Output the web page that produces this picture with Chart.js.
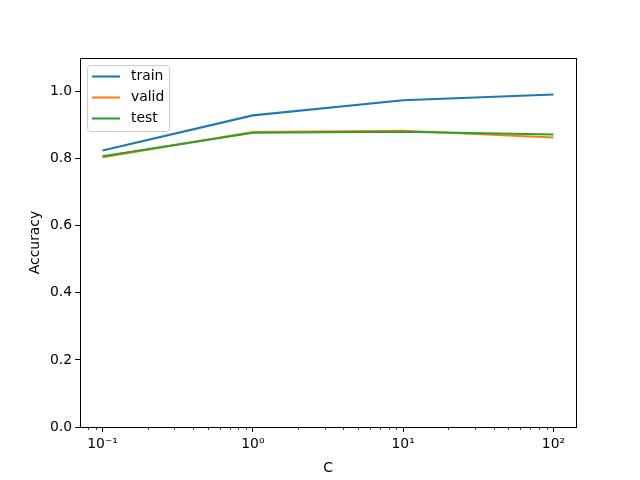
<!DOCTYPE html>
<html>
<head>
<meta charset="utf-8">
<script src="https://cdn.jsdelivr.net/npm/chart.js@4"></script>
<style>
  html, body { margin: 0; padding: 0; background: #fff; }
  #wrap { width: 640px; height: 480px; }
</style>
</head>
<body>
<div id="wrap"><canvas id="chart" width="640" height="480"></canvas></div>
<script>
// values
const cValues = [0.1, 1, 10, 100];
const trainAcc = [0.824, 0.929, 0.974, 0.991];
const validAcc = [0.804, 0.879, 0.883, 0.863];
const testAcc = [0.807, 0.877, 0.880, 0.872];
const xTicks = [0.1, 1, 10, 100];
const xTickLabels = ["10\u207B\u00B9", "10\u2070", "10\u00B9", "10\u00B2"];
const yTicks = [0, 0.2, 0.4, 0.6, 0.8, 1.0];

const FONT = "'DejaVu Sans', sans-serif";
const FS = 13.9;

function pts(ys) {
    return cValues.map((x, i) => ({ x: x, y: ys[i] }));
}

// box around the plot, minor log ticks, and the legend inside the axes
const mplLook = {
    id: 'mplLook',
    afterDraw(chart) {
        const ctx = chart.ctx;
        const a = chart.chartArea;
        const xs = chart.scales.x;
        ctx.save();
        ctx.strokeStyle = '#000';
        ctx.lineWidth = 1;
        ctx.strokeRect(Math.round(a.left) + 0.5, Math.round(a.top) + 0.5,
            Math.round(a.right - a.left), Math.round(a.bottom - a.top));

        // minor ticks
        ctx.lineWidth = 0.8;
        for (let d = -2; d <= 2; d++) {
            for (let k = 2; k <= 9; k++) {
                const v = k * Math.pow(10, d);
                if (v < xs.min || v > xs.max) continue;
                const px = Math.round(xs.getPixelForValue(v)) + 0.5;
                ctx.beginPath();
                ctx.moveTo(px, a.bottom);
                ctx.lineTo(px, a.bottom + 2.8);
                ctx.stroke();
            }
        }

        // legend
        const lx = a.left + 7, ly = a.top + 7, lw = 82, lh = 66;
        ctx.beginPath();
        ctx.roundRect(lx + 0.5, ly + 0.5, lw, lh, 3);
        ctx.fillStyle = 'rgba(255,255,255,0.8)';
        ctx.fill();
        ctx.strokeStyle = '#cccccc';
        ctx.lineWidth = 1;
        ctx.stroke();
        ctx.font = FS + 'px ' + FONT;
        ctx.textBaseline = 'middle';
        chart.data.datasets.forEach((ds, i) => {
            const yy = ly + 11.5 + i * 21;
            ctx.strokeStyle = ds.borderColor;
            ctx.lineWidth = 2.08;
            ctx.beginPath();
            ctx.moveTo(lx + 5, yy);
            ctx.lineTo(lx + 33, yy);
            ctx.stroke();
            ctx.fillStyle = '#000';
            ctx.fillText(ds.label, lx + 44, yy);
        });
        ctx.restore();
    }
};

new Chart(document.getElementById('chart'), {
    type: 'line',
    data: {
        datasets: [
            // later series painted on top, like matplotlib
            { label: 'train', data: pts(trainAcc), borderColor: '#1f77b4', order: 3 },
            { label: 'valid', data: pts(validAcc), borderColor: '#ff7f0e', order: 2 },
            { label: 'test', data: pts(testAcc), borderColor: '#2ca02c', order: 1 }
        ]
    },
    options: {
        responsive: false,
        animation: false,
        layout: { padding: { left: 0, right: 64, top: 58, bottom: 0 } },
        elements: {
            line: { borderWidth: 2.08, tension: 0 },
            point: { radius: 0 }
        },
        plugins: {
            legend: { display: false },
            tooltip: { enabled: false }
        },
        scales: {
            x: {
                type: 'logarithmic',
                min: Math.pow(10, -1.15),
                max: Math.pow(10, 2.15),
                afterBuildTicks: s => { s.ticks = xTicks.map(v => ({ value: v })); },
                afterFit: s => { s.height = 53; },
                border: { display: true, color: '#000', width: 1 },
                grid: { drawOnChartArea: false, drawTicks: true, tickLength: 4.9, color: '#000' },
                ticks: {
                    color: '#000', padding: 4,
                    font: { family: FONT, size: FS },
                    maxRotation: 0, autoSkip: false,
                    callback: (v, i) => xTickLabels[i]
                },
                title: {
                    display: true, text: 'C', color: '#000',
                    font: { family: FONT, size: FS },
                    padding: { top: 0, bottom: 3 }
                }
            },
            y: {
                min: 0,
                max: 1.1,
                afterBuildTicks: s => { s.ticks = yTicks.map(v => ({ value: v })); },
                afterFit: s => { s.width = 80; },
                border: { display: true, color: '#000', width: 1 },
                grid: { drawOnChartArea: false, drawTicks: true, tickLength: 4.9, color: '#000' },
                ticks: {
                    color: '#000', padding: 3,
                    font: { family: FONT, size: FS },
                    callback: v => v.toFixed(1)
                },
                title: {
                    display: true, text: 'Accuracy', color: '#000',
                    font: { family: FONT, size: FS },
                    padding: { top: 27, bottom: 0 }
                }
            }
        }
    },
    plugins: [mplLook]
});
</script>
</body>
</html>
